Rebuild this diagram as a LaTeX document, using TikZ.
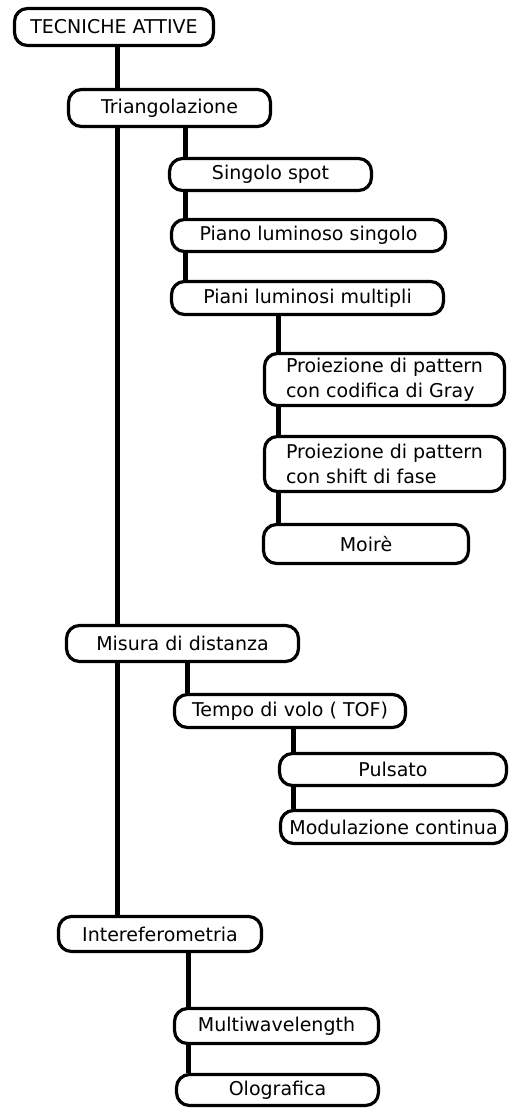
\documentclass[tikz,border=0pt]{standalone}
\usepackage{fontspec}
\setmainfont{DejaVu Sans}

\begin{document}
\begin{tikzpicture}[x=1pt,y=-1pt,
    box/.style={draw,line width=3.2pt,rounded corners=13pt,fill=white,inner sep=0pt,
      align=left,font=\fontsize{19}{25}\selectfont},
    link/.style={line width=5pt}]

      \useasboundingbox (0,0) rectangle (509,1108);

      \begin{scope}[every node/.style={box}]
        \node[minimum width=199pt,minimum height=37pt] (root) at (114,27) {TECNICHE ATTIVE};
        \node[minimum width=202pt,minimum height=37pt] (tri) at (169.5,108) {Triangolazione};
        \node[minimum width=202pt,minimum height=32pt] (spot) at (270.5,174.5) {Singolo spot};
        \node[minimum width=274pt,minimum height=32pt] (piano) at (308.5,235.5) {Piano luminoso singolo};
        \node[minimum width=272pt,minimum height=33pt] (piani) at (307.5,298) {Piani luminosi multipli};
        \node[minimum width=240pt,minimum height=52pt] (gray) at (384.5,379.5) {Proiezione di pattern\\con codifica di Gray};
        \node[minimum width=240pt,minimum height=55pt] (fase) at (384.5,464) {Proiezione di pattern\\con shift di fase};
        \node[minimum width=205pt,minimum height=39pt] (moire) at (366,544) {Moirè};
        \node[minimum width=232pt,minimum height=36pt] (mis) at (182.5,643.5) {Misura di distanza};
        \node[minimum width=231pt,minimum height=33pt] (tof) at (290,711) {Tempo di volo ( TOF)};
        \node[minimum width=227pt,minimum height=32pt] (puls) at (393,769.5) {Pulsato};
        \node[minimum width=226pt,minimum height=33pt] (mod) at (393.5,827) {Modulazione continua};
        \node[minimum width=203pt,minimum height=35pt] (inter) at (160,934) {Intereferometria};
        \node[minimum width=204pt,minimum height=35pt] (multi) at (276.5,1026) {Multiwavelength};
        \node[minimum width=202pt,minimum height=31pt] (olo) at (277.5,1090) {Olografica};
      \end{scope}

      \coordinate (t0) at (117,0);
      \coordinate (t1) at (185,0);
      \coordinate (t2) at (278,0);
      \coordinate (t3) at (187,0);
      \coordinate (t4) at (293,0);
      \coordinate (t5) at (188,0);

      \begin{scope}[every path/.style={link}]
        \draw (t0 |- root.south) -- (t0 |- tri.north);
        \draw (t0 |- tri.south) -- (t0 |- mis.north);
        \draw (t0 |- mis.south) -- (t0 |- inter.north);

        \draw (t1 |- tri.south) -- (t1 |- spot.north);
        \draw (t1 |- spot.south) -- (t1 |- piano.north);
        \draw (t1 |- piano.south) -- (t1 |- piani.north);

        \draw (t2 |- piani.south) -- (t2 |- gray.north);
        \draw (t2 |- gray.south) -- (t2 |- fase.north);
        \draw (t2 |- fase.south) -- (t2 |- moire.north);

        \draw (t3 |- mis.south) -- (t3 |- tof.north);

        \draw (t4 |- tof.south) -- (t4 |- puls.north);
        \draw (t4 |- puls.south) -- (t4 |- mod.north);

        \draw (t5 |- inter.south) -- (t5 |- multi.north);
        \draw (t5 |- multi.south) -- (t5 |- olo.north);
      \end{scope}

    \end{tikzpicture}
\end{document}
